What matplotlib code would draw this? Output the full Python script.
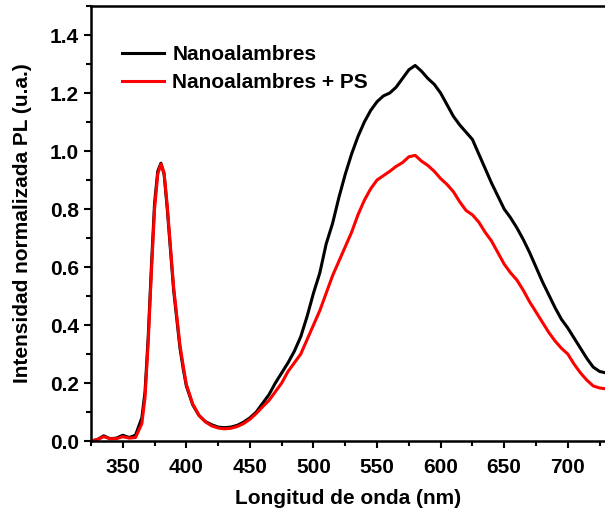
import numpy as np
import matplotlib
matplotlib.use('Agg')
import matplotlib.pyplot as plt
from matplotlib.ticker import MultipleLocator, FormatStrFormatter

plt.rcParams['font.family'] = ['Liberation Sans', 'DejaVu Sans']
plt.rcParams['font.weight'] = 'bold'

# wavelength (nm): 5 nm steps, 2.5 nm around the 380 nm peak
wl = [325, 330, 335, 340, 345, 350, 355, 360, 365, 367.5,
      370, 372.5, 375, 377.5, 380, 382.5, 385, 387.5, 390, 392.5,
      395, 397.5, 400, 405, 410, 415, 420, 425, 430, 435,
      440, 445, 450, 455, 460, 465, 470, 475, 480, 485,
      490, 495, 500, 505, 510, 515, 520, 525, 530, 535,
      540, 545, 550, 555, 560, 565, 570, 575, 580, 585,
      590, 595, 600, 605, 610, 615, 620, 625, 630, 635,
      640, 645, 650, 655, 660, 665, 670, 675, 680, 685,
      690, 695, 700, 705, 710, 715, 720, 725, 730]

nano = [0.0, 0.005, 0.018, 0.008, 0.01, 0.02, 0.012, 0.02, 0.08, 0.17,
        0.36, 0.60, 0.82, 0.93, 0.958, 0.92, 0.80, 0.66, 0.52, 0.42,
        0.32, 0.25, 0.19, 0.125, 0.088, 0.067, 0.056,
        0.048, 0.046, 0.048, 0.054, 0.065, 0.08, 0.10, 0.13, 0.16, 0.20,
        0.235, 0.27, 0.31, 0.36, 0.43, 0.51, 0.58, 0.68, 0.75, 0.84,
        0.92, 0.99, 1.05, 1.10, 1.14, 1.17, 1.19, 1.20, 1.22, 1.25,
        1.28, 1.295, 1.275, 1.25, 1.23, 1.20, 1.16, 1.12, 1.09, 1.065,
        1.04, 0.99, 0.94, 0.89, 0.845, 0.80, 0.77, 0.735, 0.695, 0.65,
        0.60, 0.55, 0.505, 0.46, 0.42, 0.39, 0.355, 0.32, 0.285, 0.255,
        0.24, 0.235]

nano_ps = [0.0, 0.005, 0.015, 0.008, 0.008, 0.015, 0.01, 0.012, 0.06, 0.15,
           0.34, 0.58, 0.80, 0.92, 0.955, 0.925, 0.81, 0.67, 0.53, 0.43,
           0.33, 0.26, 0.195, 0.128, 0.088, 0.066, 0.052,
           0.045, 0.042, 0.044, 0.05, 0.06, 0.075, 0.095, 0.118, 0.14, 0.17,
           0.20, 0.24, 0.27, 0.30, 0.35, 0.40, 0.45, 0.51, 0.57, 0.62,
           0.67, 0.72, 0.78, 0.83, 0.87, 0.90, 0.915, 0.93, 0.947, 0.96,
           0.98, 0.985, 0.965, 0.95, 0.93, 0.905, 0.885, 0.86, 0.825, 0.795,
           0.78, 0.755, 0.72, 0.69, 0.65, 0.61, 0.58, 0.555, 0.52, 0.48,
           0.445, 0.41, 0.375, 0.345, 0.32, 0.30, 0.265, 0.235, 0.21, 0.19,
           0.183, 0.18]

fig = plt.figure(figsize=(6.05, 5.18), dpi=100)
ax = fig.add_axes([0.1504, 0.1486, 0.8496, 0.8398])

ax.plot(wl, nano, color='black', lw=2.2, label='Nanoalambres')
ax.plot(wl, nano_ps, color='red', lw=2.2, label='Nanoalambres + PS')

ax.set_xlim(325, 729.3)
ax.set_ylim(0, 1.5)
ax.set_xticks(np.arange(350, 701, 50))
ax.set_yticks(np.arange(0, 1.41, 0.2))
ax.xaxis.set_minor_locator(MultipleLocator(25))
ax.yaxis.set_minor_locator(MultipleLocator(0.1))
ax.yaxis.set_major_formatter(FormatStrFormatter('%.1f'))

ax.tick_params(which='major', direction='out', length=5, width=1.5, labelsize=15)
ax.tick_params(which='minor', direction='out', length=3.5, width=1.5)
ax.tick_params(axis='x', which='major', pad=7)
for s in ['left', 'bottom', 'top']:
    ax.spines[s].set_linewidth(1.8)
ax.spines['right'].set_visible(False)

ax.set_xlabel('Longitud de onda (nm)', fontsize=15, fontweight='bold', labelpad=9)
ax.set_ylabel('Intensidad normalizada PL (u.a.)', fontsize=15, fontweight='bold', labelpad=13)

ax.legend(loc='upper left', bbox_to_anchor=(0.045, 0.93), frameon=False,
          fontsize=15, handlelength=2.0, handletextpad=0.4,
          labelspacing=0.45, borderaxespad=0)

fig.savefig('out.png', dpi=100)
